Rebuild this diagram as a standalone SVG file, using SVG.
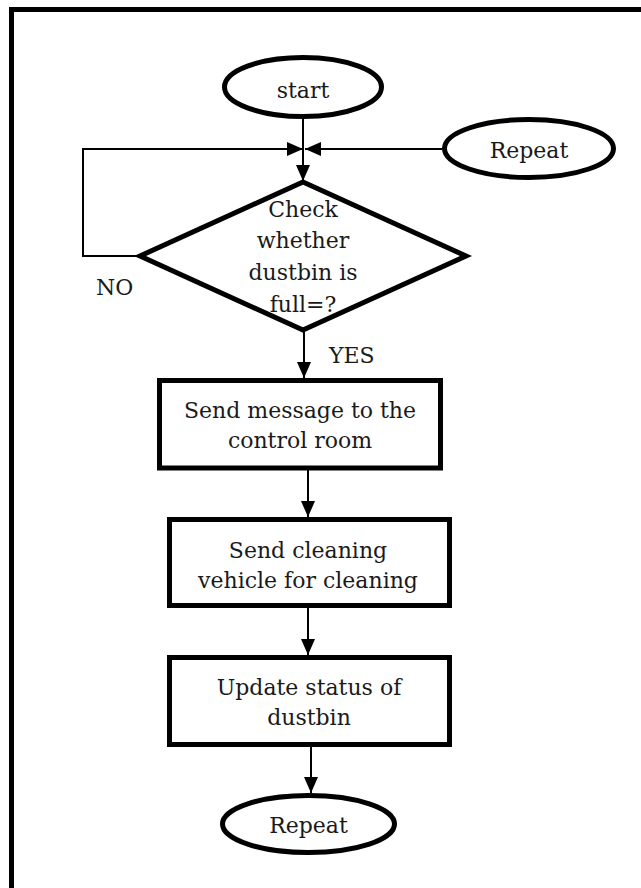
<svg xmlns="http://www.w3.org/2000/svg" width="641" height="888" viewBox="0 0 641 888">
<defs>
<style>
.shape{fill:#fff;stroke:#000;stroke-width:5}
.conn{fill:none;stroke:#000;stroke-width:2}
text{font-family:"DejaVu Serif","Liberation Serif",serif;font-size:22px;fill:#1a1a1a}
.c{text-anchor:middle}
</style>
<marker id="arr" markerUnits="userSpaceOnUse" markerWidth="16" markerHeight="14" refX="16" refY="7" orient="auto">
<path d="M0,0 L16,7 L0,14 z" fill="#000"/>
</marker>
</defs>
<rect width="641" height="888" fill="#fff"/>
<path d="M11.5 888 V9.5 H641" fill="none" stroke="#000" stroke-width="5"/>
<g id="connectors">
<path class="conn" d="M303 119 V181" marker-end="url(#arr)"/>
<path class="conn" d="M140 256 H83 V149 H303" marker-end="url(#arr)"/>
<path class="conn" d="M442 149 H305" marker-end="url(#arr)"/>
<path class="conn" d="M304 330 V378" marker-end="url(#arr)"/>
<path class="conn" d="M308 470 V517" marker-end="url(#arr)"/>
<path class="conn" d="M308 608 V655" marker-end="url(#arr)"/>
<path class="conn" d="M311 747 V793" marker-end="url(#arr)"/>
<text x="329" y="363">YES</text>
<text x="96" y="295">NO</text>
</g>
<g id="start">
<ellipse class="shape" cx="303" cy="87" rx="78.5" ry="29.5"/>
<text class="c" x="303" y="98">start</text>
</g>
<g id="repeat-top">
<ellipse class="shape" cx="529" cy="148.5" rx="84.5" ry="29"/>
<text class="c" x="529" y="158">Repeat</text>
</g>
<g id="check">
<polygon class="shape" points="303,182 466,256 303,330 140,256"/>
<text class="c" x="303" y="217">Check</text>
<text class="c" x="303" y="248">whether</text>
<text class="c" x="303" y="280">dustbin is</text>
<text class="c" x="303" y="312">full=?</text>
</g>
<g id="message">
<rect class="shape" x="159.5" y="380.5" width="281" height="87.5"/>
<text class="c" x="300" y="418">Send message to the</text>
<text class="c" x="300" y="448">control room</text>
</g>
<g id="cleaning">
<rect class="shape" x="169.5" y="519.5" width="280" height="86"/>
<text class="c" x="308" y="558">Send cleaning</text>
<text class="c" x="308" y="588">vehicle for cleaning</text>
</g>
<g id="update">
<rect class="shape" x="169.5" y="657.5" width="280" height="87"/>
<text class="c" x="309" y="695">Update status of</text>
<text class="c" x="309" y="725">dustbin</text>
</g>
<g id="repeat-bottom">
<ellipse class="shape" cx="308.5" cy="824" rx="86" ry="28.5"/>
<text class="c" x="308.5" y="833">Repeat</text>
</g>
</svg>
